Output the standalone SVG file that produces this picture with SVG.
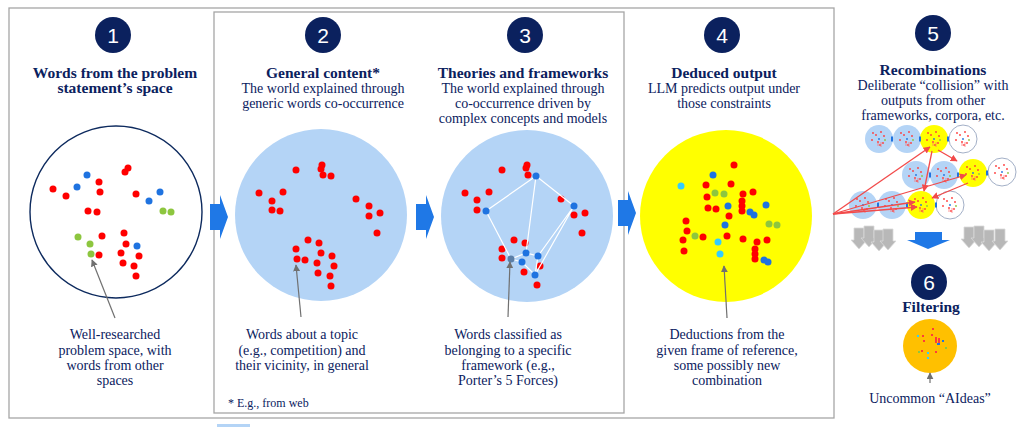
<svg xmlns="http://www.w3.org/2000/svg" xmlns:xlink="http://www.w3.org/1999/xlink" width="1024" height="427" viewBox="0 0 1024 427">
<style>
.frame{fill:none;stroke:#a6a6a6;stroke-width:1.3}
.num{fill:#0b215e}
.numt{font-family:"Liberation Sans",Arial,sans-serif;font-size:21px;fill:#fff;text-anchor:middle}
.t{font-family:"Liberation Serif","Times New Roman",serif;font-size:14px;fill:#0b215e;text-anchor:middle}
.b{font-weight:bold;font-size:15.5px}
.fn{font-family:"Liberation Serif","Times New Roman",serif;font-size:12px;fill:#0b215e}
.r{fill:#ff0000}
.u{fill:#1f73e0}
.g{fill:#8dc63f}
.c{fill:#33ccff}
.lb{fill:#b4d4f6}
.bigarrow{fill:#1f78e6}
.ann{stroke:#707070;stroke-width:1.2;fill:none;marker-end:url(#ah)}
.wl{stroke:#ffffff;stroke-width:1.2;fill:none}
.rl{stroke:#f24a4a;stroke-width:1.3;fill:none;marker-end:url(#rh)}
.garr{fill:#b8b8b8;stroke:#d9d9d9;stroke-width:0.8}
.conn{fill:#1f73e0}
</style>
<defs>
<marker id="ah" viewBox="0 0 10 10" refX="9" refY="5" markerWidth="7" markerHeight="7" orient="auto" markerUnits="userSpaceOnUse">
<path d="M0,0 L10,5 L0,10 Z" fill="#707070"/>
</marker>
<marker id="rh" viewBox="0 0 10 10" refX="9" refY="5" markerWidth="7" markerHeight="7" orient="auto" markerUnits="userSpaceOnUse">
<path d="M0,0 L10,5 L0,10 Z" fill="#f24a4a"/>
</marker>
<g id="mini">
<circle cx="-6" cy="-6" r="0.9" fill="#ff3b3b"/><circle cx="-3" cy="-4" r="0.9" fill="#ff3b3b"/><circle cx="2" cy="-7" r="0.9" fill="#ff3b3b"/>
<circle cx="5" cy="-3" r="0.9" fill="#ff3b3b"/><circle cx="-7" cy="1" r="0.9" fill="#ff3b3b"/><circle cx="-1" cy="3" r="0.9" fill="#ff3b3b"/>
<circle cx="1" cy="6" r="0.9" fill="#ff3b3b"/><circle cx="4" cy="4" r="0.9" fill="#ff3b3b"/><circle cx="0" cy="0" r="0.9" fill="#1f73e0"/>
<circle cx="6" cy="1" r="0.9" fill="#8dc63f"/><path d="M-1,2 v5 M2,3 v5" stroke="#ff6b6b" stroke-width="0.7"/>
</g>
<path id="darr" d="M-5,-11 H5 V1 H8 L0,10 L-8,1 H-5 Z"/>
</defs>
<rect width="1024" height="427" fill="#ffffff"/>

<rect class="frame" x="9" y="8" width="825" height="410"/>
<rect class="frame" x="214" y="12" width="410" height="401"/>
<rect x="217" y="424" width="33" height="3" fill="#b4d4f6"/>

<g id="panel1">
<circle class="num" cx="113" cy="35" r="18"/>
<text class="numt" x="113" y="42.5">1</text>
<text class="t b" x="115" y="78">Words from the problem</text>
<text class="t b" x="115" y="93">statement’s space</text>
<circle cx="116" cy="212" r="86" fill="#ffffff" stroke="#0d2a5e" stroke-width="1.4"/>
<g class="r">
<circle cx="53" cy="189" r="3.5"/><circle cx="66" cy="196" r="3.5"/><circle cx="99" cy="182" r="3.5"/><circle cx="100" cy="192" r="3.5"/>
<circle cx="128" cy="168" r="3.5"/><circle cx="125" cy="172" r="3.5"/><circle cx="136" cy="194" r="3.5"/><circle cx="88" cy="211" r="3.5"/>
<circle cx="97" cy="212" r="3.5"/><circle cx="102" cy="236" r="3.5"/><circle cx="124" cy="233" r="3.5"/><circle cx="126" cy="244" r="3.5"/>
<circle cx="121" cy="253" r="3.5"/><circle cx="139" cy="256" r="3.5"/><circle cx="99" cy="255" r="3.5"/><circle cx="123" cy="263" r="3.5"/>
<circle cx="134" cy="266" r="3.5"/><circle cx="136" cy="276" r="3.5"/>
</g>
<g class="u">
<circle cx="87" cy="175" r="3.5"/><circle cx="77" cy="187" r="3.5"/><circle cx="149" cy="201" r="3.5"/><circle cx="160" cy="192" r="3.5"/><circle cx="137" cy="246" r="3.5"/>
</g>
<g class="g">
<circle cx="163" cy="211" r="3.5"/><circle cx="171" cy="212" r="3.5"/><circle cx="78" cy="237" r="3.5"/><circle cx="90" cy="244" r="3.5"/><circle cx="91" cy="254" r="3.5"/>
</g>
<text class="t" x="115" y="339">Well-researched</text>
<text class="t" x="115" y="354.5">problem space, with</text>
<text class="t" x="115" y="370">words from other</text>
<text class="t" x="115" y="385">spaces</text>
</g>

<g id="panel2">
<circle class="num" cx="323" cy="35" r="18"/>
<text class="numt" x="323" y="42.5">2</text>
<text class="t b" x="323" y="78">General content*</text>
<text class="t" x="323" y="93">The world explained through</text>
<text class="t" x="323" y="108">generic words co-occurrence</text>
<circle class="lb" cx="321" cy="215" r="86"/>
<g class="r">
<circle cx="296" cy="170" r="3.5"/><circle cx="322" cy="165" r="3.5"/><circle cx="321" cy="169" r="3.5"/><circle cx="323" cy="175" r="3.5"/>
<circle cx="331" cy="176" r="3.5"/><circle cx="259" cy="193" r="3.5"/><circle cx="283" cy="192" r="3.5"/><circle cx="272" cy="201" r="3.5"/>
<circle cx="272" cy="210" r="3.5"/><circle cx="280" cy="211" r="3.5"/><circle cx="356" cy="199" r="3.5"/><circle cx="369" cy="206" r="3.5"/>
<circle cx="369" cy="216" r="3.5"/><circle cx="380" cy="213" r="3.5"/><circle cx="377" cy="233" r="3.5"/><circle cx="308" cy="240" r="3.5"/>
<circle cx="319" cy="243" r="3.5"/><circle cx="296" cy="249" r="3.5"/><circle cx="321" cy="253" r="3.5"/><circle cx="332" cy="256" r="3.5"/>
<circle cx="297" cy="259" r="3.5"/><circle cx="305" cy="260" r="3.5"/><circle cx="317" cy="263" r="3.5"/><circle cx="334" cy="266" r="3.5"/>
<circle cx="318" cy="273" r="3.5"/><circle cx="330" cy="276" r="3.5"/><circle cx="331" cy="286" r="3.5"/>
</g>
<text class="t" x="302" y="339">Words about a topic</text>
<text class="t" x="302" y="354.5">(e.g., competition) and</text>
<text class="t" x="302" y="370">their vicinity, in general</text>
<text class="fn" x="228" y="407">* E.g., from web</text>
</g>

<g id="panel3">
<circle class="num" cx="525" cy="35" r="18"/>
<text class="numt" x="525" y="42.5">3</text>
<text class="t b" x="523" y="78">Theories and frameworks</text>
<text class="t" x="523" y="93">The world explained through</text>
<text class="t" x="523" y="108">co-occurrence driven by</text>
<text class="t" x="523" y="123">complex concepts and models</text>
<circle class="lb" cx="527" cy="216" r="86"/>
<g class="r">
<circle cx="502" cy="170" r="3.5"/><circle cx="527" cy="165" r="3.5"/><circle cx="526" cy="168" r="3.5"/><circle cx="528" cy="175" r="3.5"/>
<circle cx="465" cy="193" r="3.5"/><circle cx="489" cy="192" r="3.5"/><circle cx="477" cy="200" r="3.5"/><circle cx="477" cy="210" r="3.5"/>
<circle cx="561" cy="199" r="3.5"/><circle cx="574" cy="215" r="3.5"/><circle cx="585" cy="213" r="3.5"/><circle cx="582" cy="233" r="3.5"/>
<circle cx="514" cy="240" r="3.5"/><circle cx="525" cy="243" r="3.5"/><circle cx="502" cy="249" r="3.5"/><circle cx="502" cy="258" r="3.5"/>
<circle cx="540" cy="266" r="3.5"/><circle cx="524" cy="272" r="3.5"/><circle cx="537" cy="285" r="3.5"/>
</g>
<g class="wl">
<path d="M486,211 L536,176 L574,206 M536,176 L526,253 M486,211 L511,259 L526,253 L538,256 M574,206 L535,275 M574,206 L538,256 M511,259 L522,262 L535,275 M538,256 L535,275"/>
</g>
<g class="u">
<circle cx="536" cy="176" r="3.5"/><circle cx="486" cy="211" r="3.5"/><circle cx="574" cy="206" r="3.5"/><circle cx="526" cy="253" r="3.5"/>
<circle cx="538" cy="256" r="3.5"/><circle cx="522" cy="262" r="3.5"/><circle cx="535" cy="275" r="3.5"/>
</g>
<circle cx="511" cy="259" r="3.5" fill="#5b7fa8"/>
<text class="t" x="508" y="339">Words classified as</text>
<text class="t" x="508" y="354.5">belonging to a specific</text>
<text class="t" x="508" y="370">framework (e.g.,</text>
<text class="t" x="508" y="385">Porter’s 5 Forces)</text>
</g>

<g id="panel4">
<circle class="num" cx="722" cy="35" r="18"/>
<text class="numt" x="722" y="42.5">4</text>
<text class="t b" x="724" y="78">Deduced output</text>
<text class="t" x="724" y="93">LLM predicts output under</text>
<text class="t" x="724" y="108">those constraints</text>
<circle cx="726" cy="216" r="86" fill="#ffff00"/>
<g class="r">
<circle cx="734" cy="165" r="3.5"/><circle cx="706" cy="185" r="3.5"/><circle cx="731" cy="184" r="3.5"/><circle cx="743" cy="194" r="3.5"/>
<circle cx="753" cy="192" r="3.5"/><circle cx="707" cy="197" r="3.5"/><circle cx="708" cy="208" r="3.5"/><circle cx="716" cy="209" r="3.5"/>
<circle cx="742" cy="201" r="3.5"/><circle cx="742" cy="206" r="3.5"/><circle cx="742" cy="211" r="3.5"/><circle cx="729" cy="216" r="3.5"/>
<circle cx="686" cy="221" r="3.5"/><circle cx="687" cy="231" r="3.5"/><circle cx="683" cy="240" r="3.5"/><circle cx="684" cy="251" r="3.5"/>
<circle cx="703" cy="237" r="3.5"/><circle cx="727" cy="236" r="3.5"/><circle cx="743" cy="239" r="3.5"/><circle cx="757" cy="242" r="3.5"/>
<circle cx="767" cy="240" r="3.5"/><circle cx="755" cy="249" r="3.5"/><circle cx="755" cy="254" r="3.5"/><circle cx="755" cy="259" r="3.5"/>
</g>
<g class="u">
<circle cx="713" cy="175" r="3.5"/><circle cx="728" cy="206" r="3.5"/><circle cx="766" cy="205" r="3.5"/><circle cx="750" cy="212" r="3.5"/>
<circle cx="754" cy="215" r="3.5"/><circle cx="725" cy="225" r="3.5"/><circle cx="764" cy="260" r="3.5"/><circle cx="768" cy="262" r="3.5"/>
</g>
<g class="g">
<circle cx="715" cy="193" r="3.5"/><circle cx="724" cy="194" r="3.5"/><circle cx="769" cy="224" r="3.5"/><circle cx="777" cy="225" r="3.5"/><circle cx="695" cy="236" r="3.5"/>
</g>
<g class="c">
<circle cx="681" cy="186" r="3.5"/><circle cx="718" cy="242" r="3.5"/><circle cx="720" cy="254" r="3.5"/>
</g>
<text class="t" x="727" y="339">Deductions from the</text>
<text class="t" x="727" y="354.5">given frame of reference,</text>
<text class="t" x="727" y="370">some possibly new</text>
<text class="t" x="727" y="385">combination</text>
</g>

<g id="panel5">
<circle class="num" cx="933" cy="33" r="18"/>
<text class="numt" x="933" y="40.5">5</text>
<text class="t b" x="933" y="75">Recombinations</text>
<text class="t" x="933" y="90">Deliberate “collision” with</text>
<text class="t" x="933" y="105">outputs from other</text>
<text class="t" x="933" y="120">frameworks, corpora, etc.</text>
<g id="minis">
<circle class="lb" cx="879" cy="139" r="14"/><use xlink:href="#mini" x="879" y="139"/>
<circle class="lb" cx="907" cy="139" r="14"/><use xlink:href="#mini" x="907" y="139"/>
<circle cx="934" cy="139" r="14" fill="#ffff00"/><use xlink:href="#mini" x="934" y="139"/>
<circle cx="963" cy="139" r="14" fill="#fff" stroke="#8a9ab8" stroke-width="0.8"/><use xlink:href="#mini" x="963" y="139"/>
<circle class="lb" cx="916" cy="175" r="14"/><use xlink:href="#mini" x="916" y="175"/>
<circle class="lb" cx="944" cy="175" r="14"/><use xlink:href="#mini" x="944" y="175"/>
<circle cx="973" cy="173" r="14" fill="#ffff00"/><use xlink:href="#mini" x="973" y="173"/>
<circle cx="1002" cy="172" r="14" fill="#fff" stroke="#8a9ab8" stroke-width="0.8"/><use xlink:href="#mini" x="1002" y="172"/>
<circle class="lb" cx="863" cy="205" r="14"/><use xlink:href="#mini" x="863" y="205"/>
<circle class="lb" cx="892" cy="205" r="14"/><use xlink:href="#mini" x="892" y="205"/>
<circle cx="921" cy="205" r="14" fill="#ffff00"/><use xlink:href="#mini" x="921" y="205"/>
<circle cx="950" cy="205" r="14" fill="#fff" stroke="#8a9ab8" stroke-width="0.8"/><use xlink:href="#mini" x="950" y="205"/>
</g>
<g class="conn">
<rect x="891" y="136.5" width="2" height="5"/><rect x="919" y="136.5" width="2" height="5"/><rect x="947" y="136.5" width="2" height="5"/>
<rect x="929" y="172.5" width="2" height="5"/><rect x="957" y="172.5" width="2" height="5"/><rect x="986" y="170.5" width="2" height="5"/>
<rect x="877" y="202.5" width="2" height="5"/><rect x="906" y="202.5" width="2" height="5"/><rect x="935" y="202.5" width="2" height="5"/>
</g>
<g class="garr">
<use xlink:href="#darr" x="859" y="239"/><use xlink:href="#darr" x="869" y="237"/><use xlink:href="#darr" x="879" y="241"/><use xlink:href="#darr" x="888" y="240"/>
<use xlink:href="#darr" x="969" y="238"/><use xlink:href="#darr" x="979" y="237"/><use xlink:href="#darr" x="989" y="241"/><use xlink:href="#darr" x="1000" y="240"/>
</g>
<path d="M915,232 H942 V240 H950 L928,249 L907,240 H915 Z" fill="#1f78e6"/>
</g>

<g id="panel6">
<circle class="num" cx="929" cy="282" r="18"/>
<text class="numt" x="929" y="289.5">6</text>
<text class="t b" x="931" y="312">Filtering</text>
<circle cx="930" cy="346" r="27" fill="#ffc000"/>
<g>
<rect x="922" y="335" width="2" height="2" fill="#ff3b3b"/><rect x="932" y="328" width="2" height="2" fill="#ff3b3b"/><rect x="931" y="334" width="2" height="2" fill="#ff3b3b"/>
<rect x="923" y="340" width="2" height="2" fill="#ff3b3b"/><rect x="935" y="337" width="2" height="6" fill="#ff3b3b"/><rect x="938" y="338" width="2" height="5" fill="#ff3b3b"/>
<rect x="917" y="335" width="2" height="2" fill="#33ccff"/><rect x="942" y="340" width="2" height="2" fill="#1f73e0"/><rect x="937" y="343" width="3" height="2" fill="#1f73e0"/>
<rect x="945" y="347" width="2" height="2" fill="#8dc63f"/><rect x="921" y="350" width="2" height="2" fill="#ff3b3b"/><rect x="935" y="351" width="2" height="2" fill="#ff3b3b"/>
<rect x="927" y="352" width="2" height="2" fill="#33ccff"/><rect x="927" y="357" width="2" height="2" fill="#33ccff"/><rect x="918" y="351" width="2" height="2" fill="#8dc63f"/>
</g>
<text class="t" x="930" y="403">Uncommon “AIdeas”</text>
</g>

<g id="connectors">
<path class="bigarrow" d="M210,204 H220 V195 L228,217 L220,239 V230 H210 Z"/>
<path class="bigarrow" d="M416,204 H426 V195 L434,217 L426,239 V230 H416 Z"/>
<path class="bigarrow" d="M618,200 H628 V191 L636,213 L628,235 V226 H618 Z"/>
<path class="ann" d="M115,318 L92,260"/>
<path class="ann" d="M301,317 L296,265"/>
<path class="ann" d="M508,317 L510,262"/>
<path class="ann" d="M727,318 L724,266"/>
<path class="ann" d="M930,383 L930,373"/>
<path class="rl" d="M833,214 L930,147"/>
<path class="rl" d="M833,214 L966,175"/>
<path class="rl" d="M833,214 L917,207"/>
<path class="rl" d="M833,214 L915,202"/>
<path class="rl" d="M938,150 L957,161"/>
<path class="rl" d="M932,151 L924,191"/>
<path class="rl" d="M968,183 L932,198"/>
</g>
</svg>
